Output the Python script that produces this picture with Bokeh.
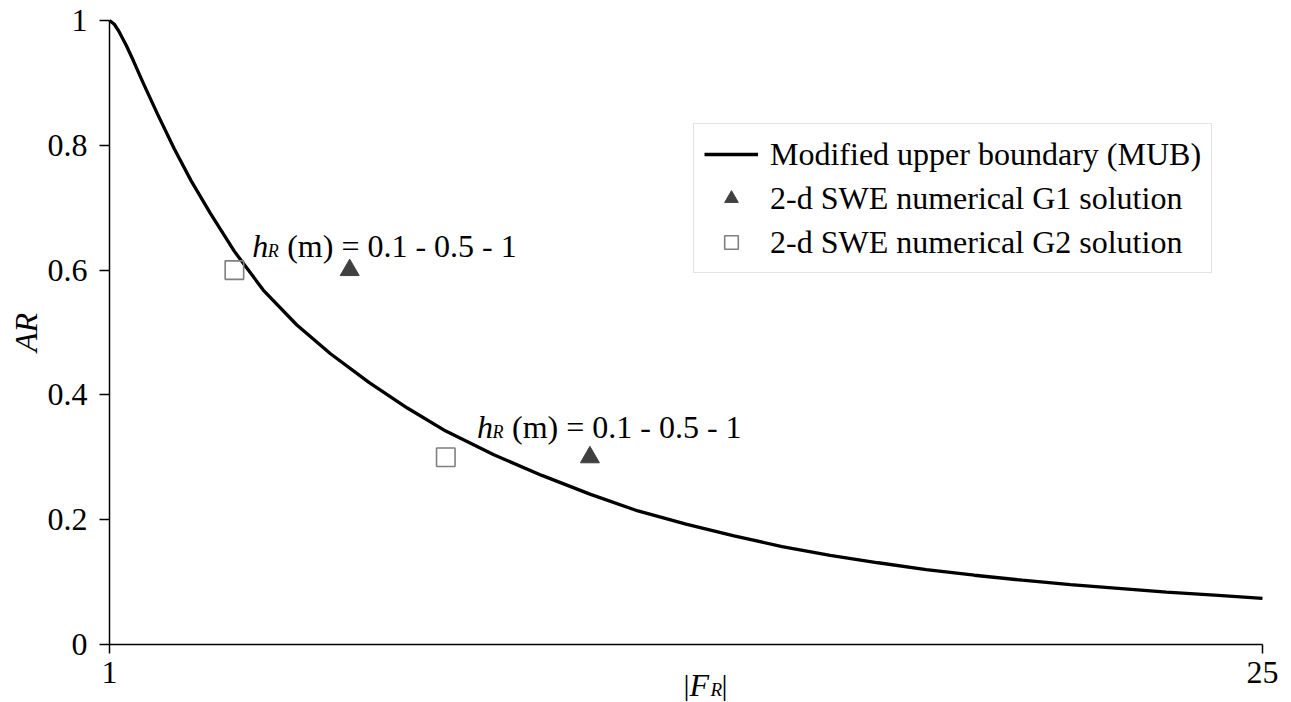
from bokeh.plotting import figure
from bokeh.models import (Range1d, FixedTicker, Legend, LegendItem, Label, LinearAxis)
from bokeh.embed import file_html
from bokeh.resources import INLINE

# ---------------- data ----------------
mub_x = [1.0, 1.1, 1.2, 1.35, 1.5, 1.7, 2.0, 2.35, 2.7, 3.1, 3.6, 4.2, 4.9, 5.6,
         6.4, 7.2, 8.0, 9.0, 10.0, 11.0, 12.0, 13.0, 14.0, 15.0, 16.0, 17.0,
         18.0, 19.0, 20.0, 21.0, 22.0, 23.0, 24.0, 25.0]
mub_y = [1.000, 0.994, 0.982, 0.960, 0.935, 0.900, 0.850, 0.794, 0.743, 0.691,
         0.630, 0.568, 0.512, 0.466, 0.420, 0.379, 0.342, 0.304, 0.271, 0.241,
         0.214, 0.193, 0.174, 0.157, 0.143, 0.131, 0.120, 0.111, 0.103, 0.096,
         0.090, 0.084, 0.079, 0.074]

g1_x = [6.0, 11.0]
g1_y = [0.6, 0.3]
g2_x = [3.6, 8.0]
g2_y = [0.6, 0.3]

y_ticks = [0, 0.2, 0.4, 0.6, 0.8, 1]
y_tick_labels = ["0", "0.2", "0.4", "0.6", "0.8", "1"]
x_ticks = [1, 25]
x_tick_labels = ["1", "25"]

series_names = ["Modified upper boundary (MUB)",
                "2-d SWE numerical G1 solution",
                "2-d SWE numerical G2 solution"]
annot_rest = "(m) = 0.1 - 0.5 - 1"

FONT = "Liberation Serif"
FS = "32px"

# ---------------- layout (frame covers the whole canvas) ----------------
W, H = 1291, 702
LEFT, RIGHT, TOP, BOTTOM = 109, 29, 20, 58
px_x = (W - LEFT - RIGHT) / (x_ticks[-1] - x_ticks[0])
px_y = (H - TOP - BOTTOM) / (y_ticks[-1] - y_ticks[0])
x_rng = Range1d(x_ticks[0] - LEFT / px_x, x_ticks[-1] + RIGHT / px_x)
y_rng = Range1d(y_ticks[0] - BOTTOM / px_y, y_ticks[-1] + TOP / px_y)

p = figure(width=W, height=H, output_backend="svg", toolbar_location=None,
           x_range=x_rng, y_range=y_rng,
           x_axis_location=None, y_axis_location=None,
           min_border_left=0, min_border_right=0, min_border_top=0,
           min_border_bottom=0)
p.outline_line_color = None
p.xgrid.visible = False
p.ygrid.visible = False
p.background_fill_color = "white"
p.border_fill_color = "white"

line_r = p.line(mub_x, mub_y, line_color="black", line_width=3.3)
tri_r = p.scatter(g1_x, g1_y, marker="triangle", size=19,
                  fill_color="#404040", line_color="#404040", line_width=1)
sq_r = p.scatter(g2_x, g2_y, marker="square", size=18.5,
                 fill_color=None, line_color="#808080", line_width=1.6)

xaxis = LinearAxis(fixed_location=y_ticks[0], bounds=(x_ticks[0], x_ticks[-1]))
yaxis = LinearAxis(fixed_location=x_ticks[0], bounds=(y_ticks[0], y_ticks[-1]))
p.add_layout(xaxis, "below")
p.add_layout(yaxis, "left")

for ax in (xaxis, yaxis):
    ax.axis_line_color = "black"
    ax.axis_line_width = 1.5
    ax.major_tick_line_color = "black"
    ax.major_tick_line_width = 1.5
    ax.major_tick_in = 0
    ax.minor_tick_line_color = None
    ax.major_label_text_font = FONT
    ax.major_label_text_font_size = FS
    ax.major_label_text_color = "black"

yaxis.ticker = FixedTicker(ticks=y_ticks)
yaxis.major_label_overrides = {t: l for t, l in zip(y_ticks, y_tick_labels)}
yaxis.major_tick_out = 10
yaxis.major_label_standoff = 12
yaxis.axis_label = "AR"
yaxis.axis_label_text_font = FONT
yaxis.axis_label_text_font_style = "italic"
yaxis.axis_label_text_font_size = FS
yaxis.axis_label_text_color = "black"
yaxis.axis_label_standoff = 1

xaxis.ticker = FixedTicker(ticks=x_ticks)
xaxis.major_label_overrides = {t: l for t, l in zip(x_ticks, x_tick_labels)}
xaxis.major_tick_out = 9
xaxis.major_label_standoff = 8


def add_text(x, y, text, dx, dy, size, style="normal"):
    p.add_layout(Label(x=x, y=y, x_units="data", y_units="data", text=text,
                       x_offset=dx, y_offset=dy, text_font=FONT,
                       text_font_size=size, text_font_style=style,
                       text_color="black", text_align="left",
                       text_baseline="alphabetic"))


# x axis title |F_R|
add_text(1, 0, "|", 574, -40, "30px")
add_text(1, 0, "F", 580, -40, FS, "italic")
add_text(1, 0, "R", 601, -45, "19px", "italic")
add_text(1, 0, "|", 612, -40, "30px")

# annotations h_R (m) = 0.1 - 0.5 - 1
for ax_, ay_ in ((3.97, 0.639), (8.65, 0.348)):
    add_text(ax_, ay_, "h", 0, 0, FS, "italic")
    add_text(ax_, ay_, "R", 15.5, -5, "18px", "italic")
    add_text(ax_, ay_, annot_rest, 35, 0, FS)

legend = Legend(items=[LegendItem(label=series_names[0], renderers=[line_r]),
                       LegendItem(label=series_names[1], renderers=[tri_r]),
                       LegendItem(label=series_names[2], renderers=[sq_r])],
                location=(693, H - 273))
legend.label_text_font = FONT
legend.label_text_font_size = FS
legend.label_text_color = "black"
legend.glyph_width = 54
legend.glyph_height = 34
legend.label_height = 40
legend.spacing = 4
legend.padding = 10
legend.margin = 0
legend.label_standoff = 12
legend.border_line_color = "#c8c8c8"
legend.border_line_width = 1
legend.background_fill_color = "white"
legend.background_fill_alpha = 1
p.add_layout(legend)

open("out.html", "w").write(file_html(p, INLINE))
